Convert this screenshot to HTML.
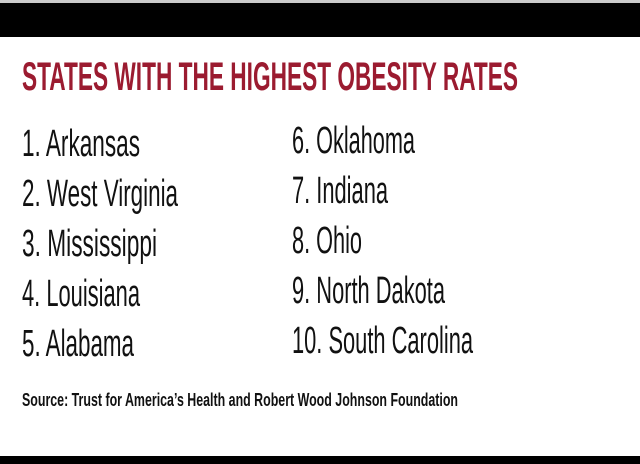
<!DOCTYPE html>
<html><head><meta charset="utf-8"><style>
html,body{margin:0;padding:0;background:#fff;width:640px;height:464px;overflow:hidden}
svg{display:block}
</style></head><body>
<svg width="640" height="464" viewBox="0 0 640 464">
<rect x="0" y="0" width="640" height="3" fill="#ccc"/>
<rect x="0" y="3" width="640" height="34" fill="#000"/>
<text x="22" y="90" font-family="Liberation Sans, sans-serif" font-weight="bold" font-size="40" fill="#9b1b30" textLength="496" lengthAdjust="spacingAndGlyphs">STATES WITH THE HIGHEST OBESITY RATES</text>
<g id="list" font-family="Liberation Sans, sans-serif" font-size="38" fill="#111"></g>
<text x="22" y="406" font-family="Liberation Sans, sans-serif" font-size="18" font-weight="600" fill="#111" textLength="436" lengthAdjust="spacingAndGlyphs">Source: Trust for America’s Health and Robert Wood Johnson Foundation</text>
<rect x="0" y="456" width="640" height="8" fill="#000"/>
</svg>
<script>
const states=["Arkansas","West Virginia","Mississippi","Louisiana","Alabama","Oklahoma","Indiana","Ohio","North Dakota","South Carolina"];
const widths=[118,156,135,118,112,123,96,70,153,181];
const g=document.getElementById('list');
states.forEach((s,i)=>{
  const col=i<5?0:1, row=i%5;
  const t=document.createElementNS('http://www.w3.org/2000/svg','text');
  t.setAttribute('x',col?292:22);
  t.setAttribute('y',(col?153:156)+row*50);
  t.setAttribute('textLength',widths[i]);
  t.setAttribute('lengthAdjust','spacingAndGlyphs');
  t.textContent=(i+1)+'. '+s;
  
  
  g.appendChild(t);
});
</script>
</body></html>
